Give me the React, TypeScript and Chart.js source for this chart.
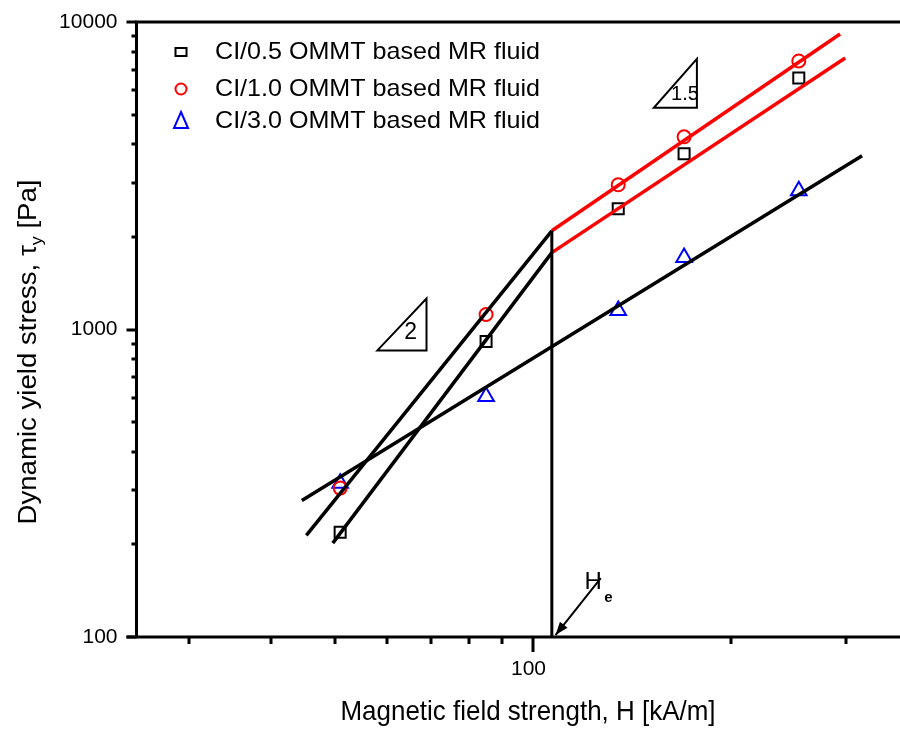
import React, { useEffect, useRef } from "react";
import { Chart, registerables } from "chart.js";
Chart.register(...registerables);

// ---- data (H in kA/m, yield stress in Pa) ----
const fieldH = [51, 85, 135, 170, 254];
const ci05 = [219, 914, 2470, 3727, 6577];
const ci10 = [305, 1119, 2956, 4233, 7469];
const ci30 = [316, 606, 1153, 1713, 2828];

// fitted lines (two end points each)
const fitLowCi10H = [45.3, 107];
const fitLowCi10T = [214, 2094];
const fitLowCi05H = [49.7, 107];
const fitLowCi05T = [202, 1778];
const fitCi30H = [44.6, 317];
const fitCi30T = [278, 3675];
const fitHighCi10H = [107, 293.5];
const fitHighCi10T = [2094, 9141];
const fitHighCi05H = [107, 298.8];
const fitHighCi05T = [1778, 7638];

// critical field marker
const criticalH = 107;
const criticalTop = 2094;

// slope triangles [x, y] corners
const slope2 = [[58.1, 855], [69.0, 855], [69.0, 1261]];
const slope15 = [[152.9, 5258], [177.8, 5258], [177.8, 7586]];

// axis ticks
const xMajorTicks = [100];
const xMinorTicks = [30, 40, 50, 60, 70, 80, 90, 200, 300];
const yMajorTicks = [100, 1000, 10000];
const yMinorTicks = [200, 300, 400, 500, 600, 700, 800, 900, 2000, 3000, 4000, 5000, 6000, 7000, 8000, 9000];

const seriesNames = [
  "CI/0.5 OMMT based MR fluid",
  "CI/1.0 OMMT based MR fluid",
  "CI/3.0 OMMT based MR fluid",
];

const FONT = "'Liberation Sans', Arial, sans-serif";

const toXY = (xs: number[], ys: number[]) => xs.map((x, i) => ({ x, y: ys[i] }));

function drawFitText(ctx: CanvasRenderingContext2D, text: string, x: number, y: number, size: number, target: number | null, align: "left" | "center" | "right") {
  ctx.save();
  ctx.font = `${size}px ${FONT}`;
  const w = ctx.measureText(text).width;
  const sx = target ? target / w : 1;
  ctx.translate(x, y);
  ctx.scale(sx, 1);
  ctx.textAlign = align;
  ctx.textBaseline = "middle";
  ctx.fillStyle = "#000";
  ctx.fillText(text, 0, 0);
  ctx.restore();
}

const overlay = {
  id: "overlay",
  afterDraw(chart: any) {
    const ctx: CanvasRenderingContext2D = chart.ctx;
    const xs = chart.scales.x;
    const ys = chart.scales.y;
    const { left, right, top, bottom } = chart.chartArea;
    const px = (v: number) => xs.getPixelForValue(v);
    const py = (v: number) => ys.getPixelForValue(v);
    ctx.save();
    ctx.strokeStyle = "#000";
    ctx.fillStyle = "#000";
    // frame
    ctx.lineWidth = 3;
    ctx.beginPath();
    ctx.moveTo(left - 10, bottom);
    ctx.lineTo(right, bottom);
    ctx.moveTo(left, bottom);
    ctx.lineTo(left, top);
    ctx.lineTo(right, top);
    ctx.stroke();
    // x ticks
    ctx.lineWidth = 3;
    ctx.beginPath();
    xMinorTicks.forEach((v) => {
      const x = Math.round(px(v));
      ctx.moveTo(x, bottom);
      ctx.lineTo(x, bottom + 7);
    });
    xMajorTicks.forEach((v) => {
      const x = Math.round(px(v));
      ctx.moveTo(x, bottom);
      ctx.lineTo(x, bottom + 15);
    });
    ctx.stroke();
    // y ticks
    ctx.beginPath();
    yMinorTicks.forEach((v) => {
      const y = Math.round(py(v));
      ctx.moveTo(left, y);
      ctx.lineTo(left - 5, y);
    });
    yMajorTicks.forEach((v) => {
      const y = Math.round(py(v));
      ctx.moveTo(left, y);
      ctx.lineTo(left - 10, y);
    });
    ctx.stroke();
    // tick labels
    xMajorTicks.forEach((v) => drawFitText(ctx, String(v), px(v) - 4, bottom + 32, 21, null, "center"));
    yMajorTicks.forEach((v) => drawFitText(ctx, String(v), left - 19, py(v), 21, null, "right"));

    // axis titles
    drawFitText(ctx, "Magnetic field strength, H [kA/m]", 528, bottom + 75, 28, 375, "center");
    // y title with subscript (rotated)
    ctx.save();
    ctx.translate(28, 352);
    ctx.rotate(-Math.PI / 2);
    const size = 26;
    const p1 = "Dynamic yield stress, \u03C4";
    const p2 = "y";
    const p3 = " [Pa]";
    ctx.font = `${size}px ${FONT}`;
    const w1 = ctx.measureText(p1).width;
    const w3 = ctx.measureText(p3).width;
    ctx.font = `${size * 0.65}px ${FONT}`;
    const w2 = ctx.measureText(p2).width;
    const total = w1 + w2 + w3;
    const sx = 345 / total;
    ctx.scale(sx, 1);
    ctx.textBaseline = "alphabetic";
    ctx.textAlign = "left";
    let cx = -total / 2;
    ctx.font = `${size}px ${FONT}`;
    ctx.fillText(p1, cx, 8);
    cx += w1;
    ctx.font = `${size * 0.65}px ${FONT}`;
    ctx.fillText(p2, cx, 14);
    cx += w2;
    ctx.font = `${size}px ${FONT}`;
    ctx.fillText(p3, cx, 8);
    ctx.restore();

    // critical field vertical line
    ctx.lineWidth = 3;
    ctx.beginPath();
    ctx.moveTo(px(criticalH), bottom);
    ctx.lineTo(px(criticalH), py(criticalTop));
    ctx.stroke();
    // arrow to He
    const ax0 = px(127), ay0 = py(155.5);
    const ax1 = px(108.4), ay1 = py(101.5);
    ctx.lineWidth = 2;
    ctx.beginPath();
    ctx.moveTo(ax0, ay0);
    ctx.lineTo(ax1, ay1);
    ctx.stroke();
    const ang = Math.atan2(ay1 - ay0, ax1 - ax0);
    ctx.beginPath();
    ctx.moveTo(ax1, ay1);
    ctx.lineTo(ax1 - 14 * Math.cos(ang - 0.35), ay1 - 14 * Math.sin(ang - 0.35));
    ctx.lineTo(ax1 - 14 * Math.cos(ang + 0.35), ay1 - 14 * Math.sin(ang + 0.35));
    ctx.closePath();
    ctx.fill();
    // He label
    ctx.font = `24px ${FONT}`;
    ctx.textBaseline = "alphabetic";
    ctx.textAlign = "left";
    ctx.fillText("H", px(120), py(143));
    ctx.font = `bold 15px ${FONT}`;
    ctx.fillText("e", px(128.5), py(130));

    // slope triangles
    const tri = (pts: number[][], label: string, lx: number, ly: number, fs: number) => {
      ctx.lineWidth = 2;
      ctx.beginPath();
      ctx.moveTo(px(pts[0][0]), py(pts[0][1]));
      ctx.lineTo(px(pts[1][0]), py(pts[1][1]));
      ctx.lineTo(px(pts[2][0]), py(pts[2][1]));
      ctx.closePath();
      ctx.stroke();
      ctx.font = `${fs}px ${FONT}`;
      ctx.textAlign = "center";
      ctx.textBaseline = "middle";
      ctx.fillText(label, px(lx), py(ly));
    };
    tri(slope2, "2", 65.3, 980, 23);
    tri(slope15, "1.5", 170.5, 5800, 20);

    // legend
    const lx = 181;
    const rows = [52, 89, 121];
    ctx.lineWidth = 2;
    ctx.strokeStyle = "#000";
    ctx.strokeRect(lx - 5.5, rows[0] - 4, 11, 8);
    ctx.strokeStyle = "#ff0000";
    ctx.beginPath();
    ctx.arc(lx, rows[1], 5.5, 0, Math.PI * 2);
    ctx.stroke();
    ctx.strokeStyle = "#0000ff";
    ctx.beginPath();
    ctx.moveTo(lx, rows[2] - 9);
    ctx.lineTo(lx + 7, rows[2] + 7);
    ctx.lineTo(lx - 7, rows[2] + 7);
    ctx.closePath();
    ctx.stroke();
    seriesNames.forEach((n, i) => drawFitText(ctx, n, 215, rows[i], 24, 325, "left"));
    ctx.restore();
  },
};

export default function App() {
  const ref = useRef<HTMLCanvasElement | null>(null);
  useEffect(() => {
    if (!ref.current) return;
    const lineDs = (xs: number[], ys: number[], color: string) => ({
      type: "line" as const,
      data: toXY(xs, ys),
      borderColor: color,
      borderWidth: 3.5,
      pointRadius: 0,
      showLine: true,
      fill: false,
      tension: 0,
      order: 0,
    });
    const chart = new Chart(ref.current, {
      type: "scatter",
      data: {
        datasets: [
          lineDs(fitLowCi10H, fitLowCi10T, "#000"),
          lineDs(fitLowCi05H, fitLowCi05T, "#000"),
          lineDs(fitCi30H, fitCi30T, "#000"),
          lineDs(fitHighCi10H, fitHighCi10T, "#ff0000"),
          lineDs(fitHighCi05H, fitHighCi05T, "#ff0000"),
          {
            label: seriesNames[0],
            data: toXY(fieldH, ci05),
            pointStyle: "rect",
            pointRadius: 7.8,
            borderColor: "#000",
            backgroundColor: "rgba(0,0,0,0)",
            borderWidth: 2,
            order: 1,
          },
          {
            label: seriesNames[1],
            data: toXY(fieldH, ci10),
            pointStyle: "circle",
            pointRadius: 6.5,
            borderColor: "#ff0000",
            backgroundColor: "rgba(0,0,0,0)",
            borderWidth: 2,
            order: 1,
          },
          {
            label: seriesNames[2],
            data: toXY(fieldH, ci30),
            pointStyle: "triangle",
            pointRadius: 9,
            borderColor: "#0000ff",
            backgroundColor: "rgba(0,0,0,0)",
            borderWidth: 2,
            order: 1,
          },
        ] as any,
      },
      options: {
        animation: false,
        responsive: false,
        events: [],
        layout: { autoPadding: false, padding: { top: 22, left: 0, right: 0, bottom: 0 } },
        plugins: { legend: { display: false }, tooltip: { enabled: false } },
        scales: {
          x: {
            type: "logarithmic",
            min: 25,
            max: 362,
            ticks: { display: false },
            grid: { display: false },
            border: { display: false },
            afterFit: (s: any) => { s.height = 97; },
          },
          y: {
            type: "logarithmic",
            min: 100,
            max: 10000,
            ticks: { display: false },
            grid: { display: false },
            border: { display: false },
            afterFit: (s: any) => { s.width = 136.5; },
          },
        },
      } as any,
      plugins: [overlay],
    });
    return () => chart.destroy();
  }, []);
  return (
    <div style={{ position: "absolute", left: 0, top: 0, width: 900, height: 734, background: "#fff" }}>
      <canvas ref={ref} width={900} height={734} style={{ display: "block" }} />
    </div>
  );
}
